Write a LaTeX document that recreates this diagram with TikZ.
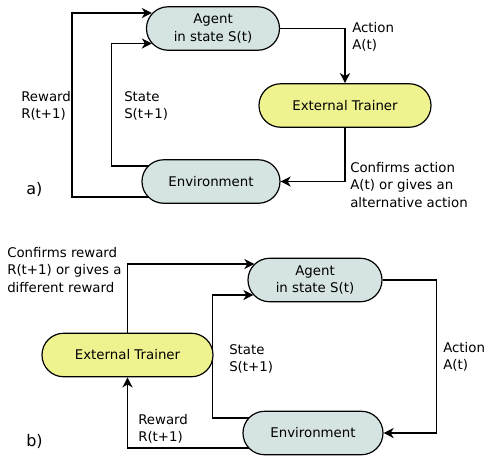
\documentclass[tikz,border=0pt]{standalone}
\usepackage{fontspec}
\setmainfont{DejaVu Sans}
\usetikzlibrary{arrows.meta,calc,backgrounds}
\definecolor{agentfill}{RGB}{214,227,227}
\definecolor{trainerfill}{RGB}{238,243,143}
\tikzset{
  every node/.style={font=\fontsize{10}{13}\selectfont},
  blob/.style={draw=black, line width=0.9pt, rectangle, rounded corners=16.2pt,
    minimum height=32.6pt, inner sep=0pt, align=center},
  agentbox/.style={blob, fill=agentfill},
  trainerbox/.style={blob, fill=trainerfill},
  lbl/.style={anchor=north west, inner sep=0pt, align=left},
  arr/.style={line width=1.3pt, -{Stealth[length=7.5pt,width=7.5pt,inset=2.2pt]}},
}
\begin{document}
\begin{tikzpicture}[x=0.75pt,y=-0.75pt]
\useasboundingbox (0,0) rectangle (485,458);
% ---------- a) ----------
\node[agentbox, minimum width=99.75pt] (agA) at (213,28.5) {Agent\\in state S(t)};
\node[trainerbox, minimum width=129pt] (trA) at (345,105.5) {External Trainer};
\node[agentbox, minimum width=103.5pt] (envA) at (211,181.5) {Environment};
\begin{scope}[on background layer]
\draw[arr] (agA.east) -| (trA.north);
\draw[arr] (trA.south) |- (envA.east);
\draw[arr] ($(envA.center)+(-40,15.5)$) -| ($(agA.west)+(-74,-15.5)$) -- ($(agA.west)+(6,-15.5)$);
\draw[arr] ($(envA.center)+(-40,-15.5)$) -| ($(agA.west)+(-34.5,15)$) -- ($(agA.west)+(6,15)$);
\end{scope}
\node[lbl] (rewA) at (21,91) {Reward\\R(t+1)};
\node[lbl] (stA) at (124,91) {State\\S(t+1)};
\node[lbl] (actA) at (352,22) {Action\\A(t)};
\node[lbl] (confA) at (350,162) {Confirms action\\A(t) or gives an\\alternative action};
\node[lbl, font=\fontsize{12}{14}\selectfont] (la) at (26,182) {a)};
% ---------- b) ----------
\node[agentbox, minimum width=100.5pt] (agB) at (315,280) {Agent\\in state S(t)};
\node[trainerbox, minimum width=128.25pt] (trB) at (127.5,355) {External Trainer};
\node[agentbox, minimum width=105pt] (envB) at (313,433) {Environment};
\begin{scope}[on background layer]
\draw[arr] (agB.east) -- ++(54,0) |- (envB.east);
\draw[arr] ($(envB.center)+(-40,-15)$) -| ($(agB.west)+(-35,15)$) -- ($(agB.west)+(6,15)$);
\draw[arr] ($(envB.center)+(-40,15)$) -| (trB.south);
\draw[arr] (trB.north) |- ($(agB.west)+(7,-16)$);
\end{scope}
\node[lbl] (confB) at (7,247) {Confirms reward\\R(t+1) or gives a\\different reward};
\node[lbl] (stB) at (229,344) {State\\S(t+1)};
\node[lbl] (actB) at (443,342) {Action\\A(t)};
\node[lbl] (rewB) at (138,414) {Reward\\R(t+1)};
\node[lbl, font=\fontsize{12}{14}\selectfont] (lb) at (26,434) {b)};
\end{tikzpicture}
\end{document}
